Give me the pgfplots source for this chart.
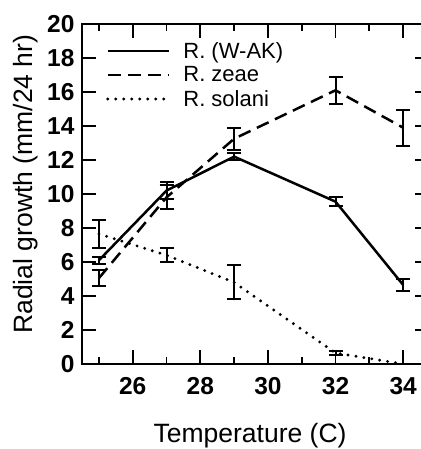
\documentclass[border=0pt]{standalone}
\usepackage{fontspec}
\setmainfont{Liberation Sans}
\usepackage{pgfplots}
\pgfplotsset{compat=1.18}

\begin{document}
\begin{tikzpicture}
\begin{axis}[
  scale only axis,
  width=346.5pt, height=340pt,
  xmin=24.5, xmax=34.75,
  ymin=0, ymax=20,
  xtick={26,28,30,32,34},
  minor xtick={25,27,29,31,33},
  ytick={0,2,...,20},
  tick align=inside,
  major tick length=14pt,
  minor tick length=7pt,
  axis line style={line width=1.7pt},
  every tick/.style={line width=1.7pt, black},
  /pgf/number format/assume math mode=true,
  ticklabel style={font=\fontsize{24.5}{24.5}\selectfont\bfseries},
  xticklabel style={yshift=-10pt},
  yticklabel style={xshift=-4pt},
  xlabel={Temperature (C)},
  ylabel={Radial growth (mm/24 hr)},
  label style={font=\fontsize{26.5}{26.5}\selectfont},
  xlabel style={at={(axis description cs:0.485,-0.232)}, anchor=base},
  ylabel style={at={(axis description cs:-0.144,0.529)}, anchor=base},
  legend style={draw=none, fill=none, inner sep=0pt,
    at={(axis description cs:0,1)}, anchor=north west,
    xshift=24pt, yshift=-16pt,
    font=\fontsize{22}{22}\selectfont, row sep=3pt},
  legend cell align=left,
  legend image code/.code={\draw[#1] (0pt,0pt) -- (61pt,0pt); \path (72pt,0pt);},
  error bars/y dir=both,
  error bars/y explicit,
  error bars/error bar style={line width=2pt, solid},
  error bars/error mark options={rotate=90, mark size=7pt, line width=2pt, solid},
]
% R. (W-AK)
\addplot[black, line width=2.5pt] coordinates {
  (25,6.1) +- (0,0.2)
  (27,10.2) +- (0,0.5)
  (29,12.2) +- (0,0.2)
  (32,9.55) +- (0,0.25)
  (34,4.65) +- (0,0.35)
};
\addlegendentry{R. (W-AK)}
% R. zeae
\addplot[black, line width=2.5pt, dash pattern=on 13pt off 7pt] coordinates {
  (25,5.05) +- (0,0.45)
  (27,9.8) +- (0,0.7)
  (29,13.25) +- (0,0.65)
  (32,16.1) +- (0,0.8)
  (34,13.9) +- (0,1.05)
};
\addlegendentry{R. zeae}
% R. solani
\addplot[black, line width=3.2pt, line cap=round, dash pattern=on 0pt off 8pt] coordinates {
  (25,7.65) +- (0,0.8)
  (27,6.4) +- (0,0.4)
  (29,4.8) +- (0,1.0)
  (32,0.65) +- (0,0.12)
  (34,0) +- (0,0)
};
\addlegendentry{R. solani}
\end{axis}
\pgfresetboundingbox
\path[use as bounding box] ([xshift=-82pt,yshift=-85pt]current axis.south west)
  rectangle ([xshift=338pt,yshift=24pt]current axis.north west);
\end{tikzpicture}
\end{document}
